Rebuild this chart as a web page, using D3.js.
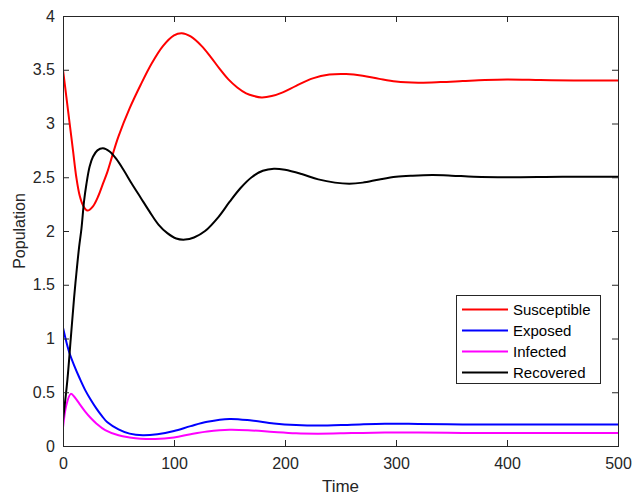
<!DOCTYPE html>
<html>
<head>
<meta charset="utf-8">
<script src="https://cdn.jsdelivr.net/npm/d3@7"></script>
<style>
  body { margin: 0; background: #fff; }
  svg text { font-family: "Liberation Sans", Arial, sans-serif; fill: #262626; }
</style>
</head>
<body>
<svg width="633" height="497"></svg>
<script>
// values
var xTicks = [0, 100, 200, 300, 400, 500];
var yTicks = [0, 0.5, 1, 1.5, 2, 2.5, 3, 3.5, 4];
var seriesNames = ["Susceptible", "Exposed", "Infected", "Recovered"];
var seriesColors = ["#ff0000", "#0000ff", "#ff00ff", "#000000"];

var tS = [0, 3, 6, 9, 12, 15, 18, 22, 27, 32, 36, 40, 45, 50, 60, 70, 80, 90, 100, 107, 115, 125, 133, 141, 149, 157, 165, 172, 179, 188, 198, 210, 225, 240, 255, 270, 285, 300, 320, 340, 360, 380, 400, 430, 460, 500];
var susceptible = [3.5, 3.25, 3.0, 2.75, 2.5, 2.33, 2.24, 2.19, 2.23, 2.33, 2.44, 2.55, 2.72, 2.88, 3.14, 3.36, 3.56, 3.72, 3.82, 3.84, 3.81, 3.72, 3.62, 3.51, 3.41, 3.335, 3.28, 3.255, 3.243, 3.255, 3.29, 3.35, 3.42, 3.455, 3.46, 3.445, 3.415, 3.39, 3.38, 3.385, 3.395, 3.405, 3.41, 3.405, 3.40, 3.40];

var tE = [0, 3, 6, 10, 15, 20, 25, 30, 35, 40, 50, 60, 72, 85, 100, 115, 130, 150, 170, 190, 210, 230, 260, 290, 320, 360, 400, 450, 500];
var exposed = [1.10, 0.97, 0.86, 0.75, 0.63, 0.52, 0.43, 0.35, 0.28, 0.22, 0.155, 0.115, 0.10, 0.11, 0.14, 0.185, 0.225, 0.252, 0.237, 0.21, 0.195, 0.19, 0.198, 0.207, 0.205, 0.20, 0.20, 0.20, 0.20];

var tI = [0, 3, 7, 10, 15, 20, 25, 30, 38, 50, 60, 70, 83, 100, 115, 130, 150, 170, 190, 210, 230, 260, 290, 320, 360, 400, 450, 500];
var infected = [0.17, 0.38, 0.485, 0.46, 0.39, 0.32, 0.26, 0.21, 0.148, 0.10, 0.08, 0.068, 0.065, 0.08, 0.11, 0.135, 0.152, 0.145, 0.13, 0.118, 0.115, 0.12, 0.125, 0.125, 0.122, 0.12, 0.12, 0.12];

var tR = [0, 4, 7, 10, 12, 14.5, 16.6, 19, 21, 24, 27, 31, 36, 42, 48, 55, 62, 70, 78, 86, 94, 102, 110, 118, 128, 140, 150, 160, 170, 180, 190, 200, 215, 230, 245, 258, 270, 285, 300, 315, 333, 350, 370, 400, 450, 500];
var recovered = [0.24, 0.62, 1.0, 1.38, 1.6, 1.85, 2.02, 2.28, 2.43, 2.6, 2.69, 2.75, 2.77, 2.74, 2.67, 2.56, 2.44, 2.31, 2.18, 2.06, 1.98, 1.93, 1.92, 1.94, 2.0, 2.13, 2.27, 2.40, 2.50, 2.56, 2.58, 2.57, 2.53, 2.48, 2.45, 2.44, 2.45, 2.48, 2.505, 2.515, 2.52, 2.515, 2.505, 2.50, 2.505, 2.505];

var svg = d3.select("svg"),
    margin = {top: 16, right: 15, bottom: 51, left: 63},
    width = +svg.attr("width") - margin.left - margin.right,
    height = +svg.attr("height") - margin.top - margin.bottom,
    g = svg.append("g").attr("transform", "translate(" + margin.left + "," + margin.top + ")");

var x = d3.scaleLinear().domain([0, 500]).range([0, width]);
var y = d3.scaleLinear().domain([0, 4]).range([height, 0]);

var series = [
  {name: seriesNames[0], color: seriesColors[0], t: tS, v: susceptible},
  {name: seriesNames[1], color: seriesColors[1], t: tE, v: exposed},
  {name: seriesNames[2], color: seriesColors[2], t: tI, v: infected},
  {name: seriesNames[3], color: seriesColors[3], t: tR, v: recovered}
];

var line = d3.line()
    .x(function(d) { return x(d[0]); })
    .y(function(d) { return y(d[1]); })
    .curve(d3.curveCatmullRom.alpha(0.5));

svg.append("clipPath").attr("id", "clip")
  .append("rect").attr("x", 0).attr("y", 0).attr("width", width).attr("height", height);

g.selectAll(".series")
  .data(series)
  .enter().append("path")
    .attr("class", "series")
    .attr("clip-path", "url(#clip)")
    .attr("fill", "none")
    .attr("stroke", function(d) { return d.color; })
    .attr("stroke-width", 2)
    .attr("d", function(d) { return line(d.t.map(function(t, i) { return [t, d.v[i]]; })); });

// axes (MATLAB style: box on, ticks inward)
var axisColor = "#262626";
function styleAxis(sel) {
  sel.select(".domain").remove();
  sel.selectAll(".tick line").attr("stroke", axisColor);
  sel.selectAll(".tick text").attr("fill", axisColor).style("font-size", "16px");
}

g.append("g")
  .attr("transform", "translate(0," + height + ")")
  .call(d3.axisBottom(x).tickValues(xTicks).tickSize(-6).tickPadding(12))
  .call(styleAxis);

g.append("g")
  .call(d3.axisLeft(y).tickValues(yTicks).tickSize(-6).tickPadding(8).tickFormat(d3.format("")))
  .call(styleAxis);

g.append("g")
  .call(d3.axisTop(x).tickValues(xTicks).tickSize(-6).tickFormat(""))
  .call(styleAxis);

g.append("g")
  .attr("transform", "translate(" + width + ",0)")
  .call(d3.axisRight(y).tickValues(yTicks).tickSize(-6).tickFormat(""))
  .call(styleAxis);

g.append("rect")
  .attr("width", width).attr("height", height)
  .attr("fill", "none").attr("stroke", axisColor).attr("stroke-width", 1)
  .attr("shape-rendering", "crispEdges");

svg.append("text")
  .attr("x", margin.left + width / 2).attr("y", 492)
  .attr("text-anchor", "middle")
  .style("font-size", "17px")
  .text("Time");

svg.append("text")
  .attr("transform", "translate(25," + (margin.top + height / 2) + ") rotate(-90)")
  .attr("text-anchor", "middle")
  .style("font-size", "16px")
  .text("Population");

// legend
var legend = svg.append("g").attr("transform", "translate(456,295)");
legend.append("rect")
  .attr("width", 144).attr("height", 88)
  .attr("fill", "#fff").attr("stroke", axisColor).attr("stroke-width", 1)
  .attr("shape-rendering", "crispEdges");

var item = legend.selectAll(".item")
  .data(series)
  .enter().append("g")
    .attr("class", "item")
    .attr("transform", function(d, i) { return "translate(0," + (14.5 + i * 21) + ")"; });

item.append("line")
  .attr("x1", 6).attr("x2", 52)
  .attr("stroke", function(d) { return d.color; })
  .attr("stroke-width", 2);

item.append("text")
  .attr("x", 57).attr("dy", "0.35em")
  .style("font-size", "15px")
  .style("fill", "#000")
  .text(function(d) { return d.name; });
</script>
</body>
</html>
